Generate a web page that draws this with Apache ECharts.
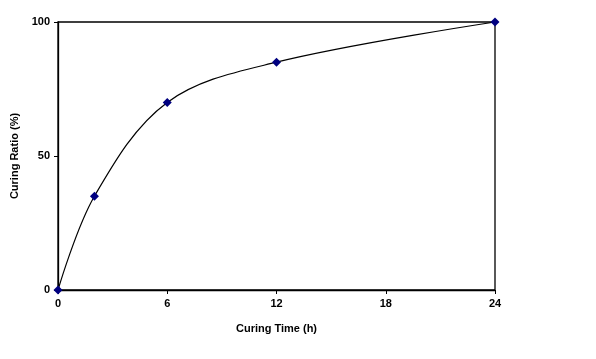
<!DOCTYPE html>
<html>
<head>
<meta charset="utf-8">
<script src="https://cdn.jsdelivr.net/npm/echarts@6/dist/echarts.min.js"></script>
<style>html,body{margin:0;padding:0;background:#fff;}#c{width:596px;height:359px;}</style>
</head>
<body>
<div id="c"></div>
<script>
const curingTime = [0, 2, 6, 12, 24];
const curingRatio = [0, 35, 70, 85, 100];
const xTicks = [0, 6, 12, 18, 24];
const yTicks = [0, 50, 100];

const chart = echarts.init(document.getElementById('c'), null, {renderer: 'canvas'});
const font = 'Liberation Sans, Arial, sans-serif';
chart.setOption({
  animation: false,
  backgroundColor: '#fff',
  grid: {left: 58, top: 22, width: 437, height: 268, show: true, borderColor: '#000', borderWidth: 1.3, containLabel: false},
  xAxis: {
    type: 'value', min: 0, max: 24, interval: 6,
    name: 'Curing Time (h)', nameLocation: 'middle', nameGap: 33,
    nameTextStyle: {fontFamily: font, fontSize: 11, fontWeight: 'bold', color: '#000'},
    axisLine: {show: true, lineStyle: {color: '#000', width: 1.3}},
    axisTick: {show: true, length: 4, lineStyle: {color: '#000'}},
    axisLabel: {fontFamily: font, fontSize: 11, fontWeight: 'bold', color: '#000', margin: 8, formatter: v => xTicks.includes(v) ? String(v) : ''},
    splitLine: {show: false}
  },
  yAxis: {
    type: 'value', min: 0, max: 100, interval: 50,
    name: 'Curing Ratio (%)', nameLocation: 'middle', nameGap: 38, nameRotate: 90,
    nameTextStyle: {fontFamily: font, fontSize: 11, fontWeight: 'bold', color: '#000'},
    axisLine: {show: true, lineStyle: {color: '#000', width: 1.3}},
    axisTick: {show: true, length: 4, lineStyle: {color: '#000'}},
    axisLabel: {fontFamily: font, fontSize: 11, fontWeight: 'bold', color: '#000', margin: 8, formatter: v => yTicks.includes(v) ? String(v) : ''},
    splitLine: {show: false}
  },
  series: [{
    type: 'line',
    data: curingTime.map((t, i) => [t, curingRatio[i]]),
    smooth: 0.35,
    symbol: 'diamond', symbolSize: 9,
    itemStyle: {color: '#000080'},
    lineStyle: {color: '#000', width: 1.2},
    clip: false
  }]
});
</script>
</body>
</html>
